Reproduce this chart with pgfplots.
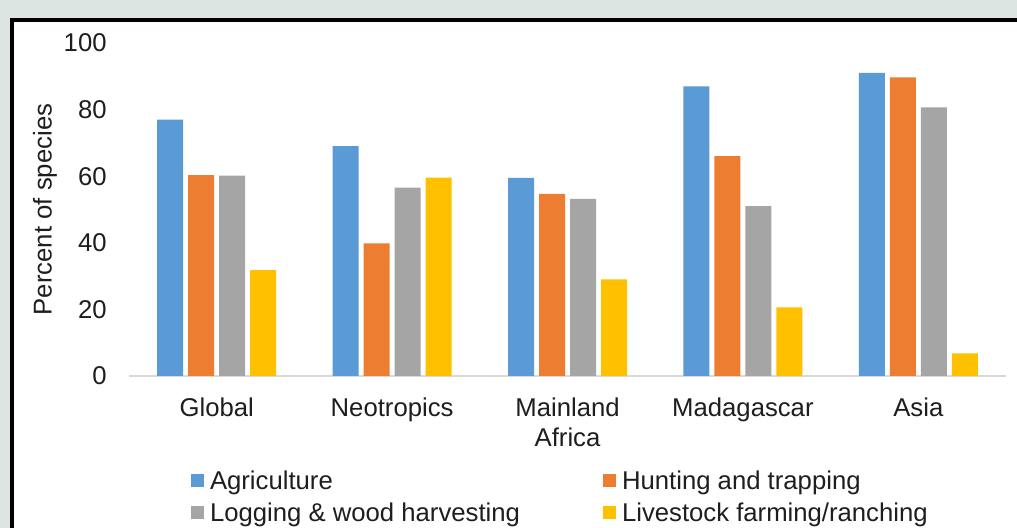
\documentclass[border=0pt]{standalone}
\usepackage{pgfplots}
\pgfplotsset{compat=1.18}
\usepackage{fontspec}
\setmainfont{Liberation Sans}
\definecolor{bgc}{RGB}{220,229,225}
\definecolor{cA}{RGB}{91,155,213}
\definecolor{cB}{RGB}{237,125,49}
\definecolor{cC}{RGB}{165,165,165}
\definecolor{cD}{RGB}{255,192,0}
\definecolor{axc}{RGB}{217,217,217}
\definecolor{txt}{RGB}{30,30,30}
\newcommand{\chf}{\fontsize{12.85}{15}\selectfont}
\begin{document}
\begin{tikzpicture}
\useasboundingbox (0,0) rectangle (508.5pt,264pt);
\fill[bgc] (0,0) rectangle (508.5pt,264pt);
\begin{scope}
\clip (0,0) rectangle (508.5pt,264pt);
\filldraw[fill=white,draw=black,line width=2pt] (5.75pt,-10pt) rectangle (520pt,253.75pt);
\end{scope}
\begin{axis}[
  at={(64.5pt,76pt)}, anchor=south west,
  scale only axis, width=438.5pt, height=166.5pt,
  ybar=2.5pt, bar width=13pt,
  xmin=-0.5, xmax=4.5, ymin=0, ymax=100,
  xtick={0,1,2,3,4},
  xticklabels={Global,Neotropics,{Mainland\\Africa},Madagascar,Asia},
  xticklabel style={align=center, inner sep=0pt, anchor=north, yshift=-10.5pt},
  ytick={0,20,40,60,80,100},
  yticklabel style={inner sep=0pt, anchor=east, xshift=-11pt},
  major tick length=0pt,
  axis lines*=left,
  y axis line style={draw=none},
  x axis line style={draw=axc, line width=1pt},
  tick label style={font=\chf, text=txt},
  /pgf/number format/assume math mode=true,
  ylabel={Percent of species},
  every axis y label/.style={at={(rel axis cs:-0.0958,0.5)}, rotate=90, anchor=center, font=\chf, text=txt},
  legend columns=2,
  legend cell align=left,
  legend style={draw=none, fill=none, at={(rel axis cs:0.0707,-0.288)}, anchor=north west,
    font=\chf, text=txt, inner sep=0pt, outer sep=0pt, column sep=3pt, row sep=4pt,
    nodes={inner sep=0pt, text height=9pt, text depth=3pt},
    /tikz/every even column/.append style={column sep=41.5pt}},
  legend image code/.code={\fill[#1] (0pt,-1.5pt) rectangle (6.5pt,5pt);},
]
\addplot[fill=cA, draw=none] coordinates {(0,77) (1,69) (2,59.5) (3,87) (4,91)};
\addplot[fill=cB, draw=none] coordinates {(0,60.3) (1,39.8) (2,54.7) (3,66) (4,89.7)};
\addplot[fill=cC, draw=none] coordinates {(0,60.2) (1,56.6) (2,53.2) (3,51) (4,80.7)};
\addplot[fill=cD, draw=none] coordinates {(0,31.8) (1,59.6) (2,29) (3,20.6) (4,6.8)};
\legend{Agriculture,Hunting and trapping,Logging \& wood harvesting,Livestock farming/ranching}
\end{axis}
\end{tikzpicture}
\end{document}
